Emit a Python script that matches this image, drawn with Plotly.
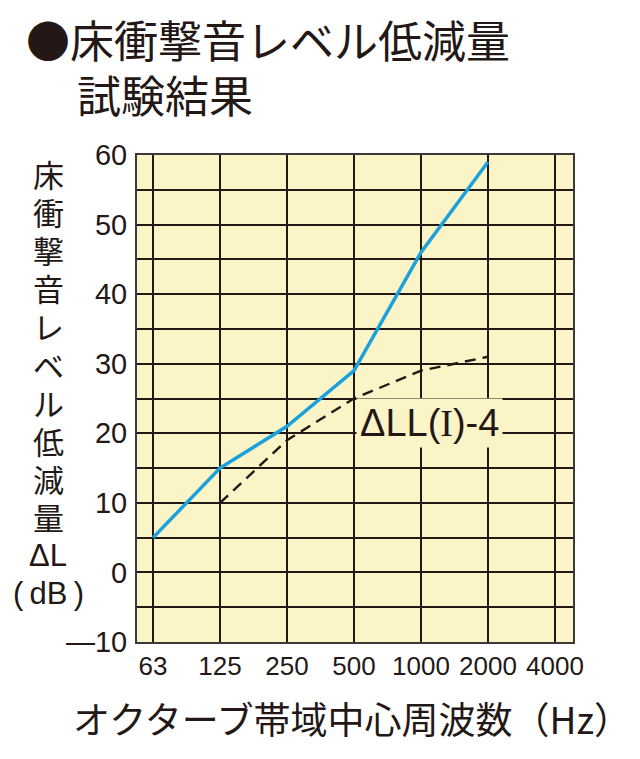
import plotly.graph_objects as go

# オクターブ帯域中心周波数
freqs = ["63", "125", "250", "500", "1000", "2000", "4000"]

# 試験結果 (ΔL, dB)
result_freqs = ["63", "125", "250", "500", "1000", "2000"]
result_vals = [5, 15, 21, 29, 46, 59]

# ΔLL(I)-4 基準曲線
ref_freqs = ["125", "250", "500", "1000", "2000"]
ref_vals = [10, 19, 25, 29, 31]

y_tickvals = list(range(-10, 61, 5))
y_ticktext = ["—10" if v == -10 else (str(v) if v % 10 == 0 else "") for v in y_tickvals]

ytitle_lines = ["床", "衝", "撃", "音", "レ", "ベ", "ル", "低", "減", "量", "ΔL", "(\u2009dB\u2009)"]

BG = "#FAF4C7"
INK = "#231815"
NUM_FONT = "Liberation Sans, Arial"
JP_FONT = "Noto Sans CJK JP"

# page has an 8px body margin, so the figure is drawn 8px in
OFF = 8
W, H = 640 - OFF, 759 - OFF
L, R, T, B = 129, 67, 147, 117
pw, ph = W - L - R, H - T - B


def px(x):
    # screen pixel -> paper x
    return (x - OFF - L) / pw


def py(y):
    # screen pixel -> paper y
    return (OFF + H - B - y) / ph


fig = go.Figure()

fig.add_trace(go.Scatter(
    x=ref_freqs, y=ref_vals,
    mode='lines',
    line=dict(color=INK, width=2.4, dash='11px,7px'),
    hoverinfo='none'))

fig.add_trace(go.Scatter(
    x=result_freqs, y=result_vals,
    mode='lines',
    line=dict(color="#1BA1DC", width=3.5),
    hoverinfo='none'))

fig.update_layout(
    width=W, height=H,
    showlegend=False,
    paper_bgcolor="white",
    plot_bgcolor=BG,
    margin=dict(l=L, r=R, t=T, b=B),
    xaxis=dict(
        type='category',
        categoryorder='array', categoryarray=freqs,
        tickvals=freqs, ticktext=freqs,
        range=[-0.24, 6.27],
        showgrid=True, gridcolor=INK, gridwidth=2,
        zeroline=False, automargin=False,
        showline=True, linecolor="#3a3a3a", linewidth=2, mirror=True,
        ticks="", ticklabelstandoff=0, tickangle=0,
        tickfont=dict(family=NUM_FONT, size=26, color=INK)),
    yaxis=dict(
        range=[-10, 60],
        tickvals=y_tickvals, ticktext=y_ticktext,
        showgrid=True, gridcolor=INK, gridwidth=2,
        zeroline=False, automargin=False,
        showline=True, linecolor="#3a3a3a", linewidth=2, mirror=True,
        ticks="", ticklabelstandoff=2,
        tickfont=dict(family=NUM_FONT, size=29, color=INK)),
)

annotations = [
    dict(text="●床衝撃音レベル低減量", x=px(24), y=py(39), xanchor='left', yanchor='middle',
         font=dict(family=JP_FONT, size=44, color=INK)),
    dict(text="試験結果", x=px(75), y=py(94), xanchor='left', yanchor='middle',
         font=dict(family=JP_FONT, size=44, color=INK)),
    dict(text="オクターブ帯域中心周波数（Hz）", x=px(352), y=py(718), xanchor='center', yanchor='middle',
         font=dict(family=JP_FONT, size=37, color=INK)),
]
for i, s in enumerate(ytitle_lines):
    fam = NUM_FONT if i >= 10 else JP_FONT
    annotations.append(dict(text=s, x=px(48), y=py(173 + 38.2 * i), xanchor='center', yanchor='middle',
                            font=dict(family=fam, size=31, color=INK)))
for a in annotations:
    a.update(xref='paper', yref='paper', showarrow=False)

fig.update_layout(annotations=annotations)

fig.add_annotation(
    text="ΔLL(<span style='font-family:Liberation Serif'>I</span>)-4",
    xref='x', yref='y', x=4.13, y=21.5,
    showarrow=False, bgcolor=BG, borderpad=3,
    font=dict(family=NUM_FONT, size=38, color=INK))

fig.write_html("out.html")
